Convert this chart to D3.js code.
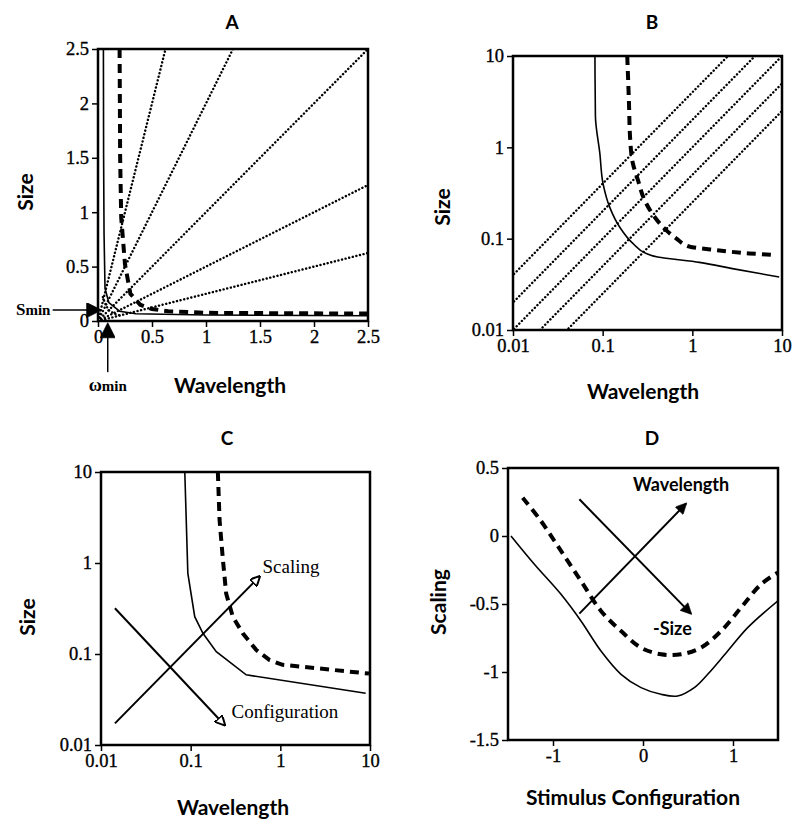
<!DOCTYPE html>
<html>
<head>
<meta charset="utf-8">
<script src="https://cdn.jsdelivr.net/npm/d3@7"></script>
<style>
  body { margin: 0; background: #fff; }
  .tick text { font-family: 'Liberation Serif', serif; font-size: 18.5px; fill: #000; stroke: #000; stroke-width: 0.35px; }
  .tick line { stroke: #000; stroke-width: 1.5; }
  .lab { font-family: Lato, sans-serif; font-weight: 700; fill: #000; }
  .note { font-family: 'Liberation Serif', serif; fill: #000; }
</style>
</head>
<body>
<div class="chart"></div>
<script>
// ---- 数据 ----
// A：线性坐标
let aSolid = [[0.05, 2.5], [0.052, 1.5], [0.056, 0.8], [0.065, 0.3], [0.1, 0.17], [0.2, 0.09], [0.35, 0.066], [1, 0.055], [2.5, 0.048]]
let aDashed = [[0.2, 2.5], [0.205, 1.5], [0.215, 0.95], [0.25, 0.52], [0.3, 0.25], [0.39, 0.15], [0.5, 0.11], [0.65, 0.09], [1, 0.075], [2.5, 0.068]]
let aArc = [[0.045, 0.22], [0.07, 0.15], [0.1, 0.1], [0.15, 0.067], [0.22, 0.046]]
let raySlopes = [4, 2, 1, 0.5, 0.25]
let aTicks = [0, 0.5, 1, 1.5, 2, 2.5]
let aTickLabels = ['0', '0.5', '1', '1.5', '2', '2.5']
let sMin = 0.1
let wMin = 0.09

// B：对数坐标
let bSolid = [[0.082, 10], [0.083, 2.2], [0.093, 0.86], [0.101, 0.4], [0.12, 0.22], [0.154, 0.135], [0.217, 0.089], [0.306, 0.069], [0.41, 0.063], [1.2, 0.055], [2.8, 0.047], [9.3, 0.038]]
let bDashed = [[0.188, 10], [0.196, 3.3], [0.203, 1.2], [0.217, 0.67], [0.247, 0.44], [0.293, 0.265], [0.378, 0.174], [0.51, 0.124], [0.66, 0.101], [0.93, 0.082], [1.83, 0.075], [4.3, 0.069], [8.5, 0.066]]
let logTicks = [0.01, 0.1, 1, 10]
let logTickLabels = ['0.01', '0.1', '1', '10']

// C
let cSolid = [[0.086, 10], [0.093, 0.77], [0.111, 0.257], [0.137, 0.169], [0.193, 0.106], [0.416, 0.059], [8.95, 0.037]]
let cDashed = [[0.201, 10], [0.21, 2.97], [0.229, 1.08], [0.249, 0.46], [0.295, 0.257], [0.381, 0.169], [0.537, 0.111], [0.755, 0.086], [1.06, 0.076], [2.49, 0.07], [5.84, 0.064], [9.75, 0.061]]
let cArrowScaling = [[0.0143, 0.0173], [0.585, 0.708]]
let cArrowConfig = [[0.0143, 0.318], [0.239, 0.0166]]

// D
let dSolid = [[-1.467, 0], [-1.207, -0.208], [-0.911, -0.429], [-0.689, -0.625], [-0.467, -0.846], [-0.244, -1.017], [-0.022, -1.115], [0.2, -1.164], [0.385, -1.176], [0.57, -1.115], [0.719, -1.017], [0.941, -0.846], [1.163, -0.674], [1.496, -0.478]]
let dDashed = [[-1.337, 0.282], [-1.133, 0.11], [-0.911, -0.11], [-0.689, -0.331], [-0.467, -0.551], [-0.244, -0.699], [-0.022, -0.821], [0.2, -0.87], [0.422, -0.87], [0.644, -0.821], [0.867, -0.699], [1.089, -0.527], [1.311, -0.355], [1.496, -0.27]]
let dArrowWave = [[-0.707, -0.571], [0.478, 0.238]]
let dArrowSize = [[-0.707, 0.27], [0.533, -0.571]]
let dXTicks = [-1, 0, 1]
let dXTickLabels = ['-1', '0', '1']
let dYTicks = [0.5, 0, -0.5, -1, -1.5]
let dYTickLabels = ['0.5', '0', '-0.5', '-1', '-1.5']

let svg = d3.select('.chart')
  .append('svg')
  .attr('width', 792)
  .attr('height', 825)

// 箭头
let defs = svg.append('defs')
function marker (id, w, h, open) {
  defs.append('marker')
    .attr('id', id)
    .attr('viewBox', '0 0 10 10')
    .attr('refX', 9)
    .attr('refY', 5)
    .attr('markerWidth', w)
    .attr('markerHeight', h)
    .attr('markerUnits', 'userSpaceOnUse')
    .attr('orient', 'auto')
    .append('path')
    .attr('d', 'M0,0 L10,5 L0,10 z')
    .attr('fill', open ? '#fff' : '#000')
    .attr('stroke', '#000')
    .attr('stroke-width', open ? 2 : 0.5)
}
marker('head', 12, 11, false)
marker('head-open', 11, 10, true)
marker('head-big', 24, 15, false)

let line = (x, y, curve) => d3.line()
  .x(d => x(d[0]))
  .y(d => y(d[1]))
  .curve(curve || d3.curveLinear)

// 绘制一个面板
function panel (opt) {
  let x = (opt.log ? d3.scaleLog() : d3.scaleLinear()).domain(opt.xDomain).range(opt.xRange)
  let y = (opt.log ? d3.scaleLog() : d3.scaleLinear()).domain(opt.yDomain).range(opt.yRange)
  let g = svg.append('g')

  let id = 'clip-' + opt.name
  defs.append('clipPath').attr('id', id)
    .append('rect')
    .attr('x', opt.xRange[0])
    .attr('y', opt.yRange[1])
    .attr('width', opt.xRange[1] - opt.xRange[0])
    .attr('height', opt.yRange[0] - opt.yRange[1])

  let xAxis = d3.axisBottom(x)
    .tickValues(opt.xTicks)
    .tickFormat((d, i) => opt.xLabels[i])
    .tickSize(6)
    .tickPadding(3)
  let yAxis = d3.axisLeft(y)
    .tickValues(opt.yTicks)
    .tickFormat((d, i) => opt.yLabels[i])
    .tickSize(6)
    .tickPadding(3)
  g.append('g').attr('transform', `translate(0,${opt.yRange[0]})`).call(xAxis)
    .call(s => s.select('.domain').remove())
  g.append('g').attr('transform', `translate(${opt.xRange[0]},0)`).call(yAxis)
    .call(s => s.select('.domain').remove())

  // 边框
  g.append('rect')
    .attr('x', opt.xRange[0])
    .attr('y', opt.yRange[1])
    .attr('width', opt.xRange[1] - opt.xRange[0])
    .attr('height', opt.yRange[0] - opt.yRange[1])
    .attr('fill', 'none')
    .attr('stroke', '#000')
    .attr('stroke-width', 2.5)

  // 标题
  g.append('text')
    .attr('class', 'lab')
    .attr('x', opt.titleX)
    .attr('y', opt.titleY)
    .attr('text-anchor', 'middle')
    .attr('font-size', 19)
    .attr('font-weight', 400)
    .text(opt.name)

  g.append('text')
    .attr('class', 'lab')
    .attr('x', opt.xLabelPos[0])
    .attr('y', opt.xLabelPos[1])
    .attr('text-anchor', 'middle')
    .attr('font-size', 21)
    .text(opt.xTitle)
  g.append('text')
    .attr('class', 'lab')
    .attr('transform', `translate(${opt.yLabelPos[0]},${opt.yLabelPos[1]}) rotate(-90)`)
    .attr('text-anchor', 'middle')
    .attr('font-size', 21)
    .text(opt.yTitle)

  let plot = g.append('g').attr('clip-path', `url(#${id})`)
  return { g, plot, x, y }
}

function solid (p, data, curve) {
  p.plot.append('path')
    .attr('d', line(p.x, p.y, curve)(data))
    .attr('fill', 'none')
    .attr('stroke', '#000')
    .attr('stroke-width', 1.6)
}
function dashed (p, data, curve) {
  p.plot.append('path')
    .attr('d', line(p.x, p.y, curve)(data))
    .attr('fill', 'none')
    .attr('stroke', '#000')
    .attr('stroke-width', 4)
    .attr('stroke-dasharray', '9,6')
}
function dotted (p, data) {
  p.plot.append('path')
    .attr('d', line(p.x, p.y)(data))
    .attr('fill', 'none')
    .attr('stroke', '#000')
    .attr('stroke-width', 2.4)
    .attr('stroke-linecap', 'round')
    .attr('stroke-dasharray', '0.1,3.6')
}
function arrow (p, data, head) {
  p.g.append('line')
    .attr('x1', p.x(data[0][0]))
    .attr('y1', p.y(data[0][1]))
    .attr('x2', p.x(data[1][0]))
    .attr('y2', p.y(data[1][1]))
    .attr('stroke', '#000')
    .attr('stroke-width', 2)
    .attr('marker-end', `url(#${head})`)
}
function note (p, data, dx, dy, txt, size) {
  p.g.append('text')
    .attr('class', 'note')
    .attr('x', p.x(data[1][0]) + dx)
    .attr('y', p.y(data[1][1]) + dy)
    .attr('font-size', size)
    .text(txt)
}

// ---- A ----
let pA = panel({
  name: 'A', log: false,
  xDomain: [0, 2.5], yDomain: [0, 2.5],
  xRange: [98, 368], yRange: [321, 49],
  xTicks: aTicks, xLabels: aTickLabels, yTicks: aTicks, yLabels: aTickLabels,
  titleX: 232, titleY: 29,
  xTitle: 'Wavelength', yTitle: 'Size',
  xLabelPos: [230, 393], yLabelPos: [33, 192]
})
raySlopes.forEach(k => dotted(pA, [[0, 0], [2.5, 2.5 * k]]))
dotted(pA, aArc)
solid(pA, aSolid)
dashed(pA, aDashed)
// Smin / ωmin 箭头
pA.g.append('line')
  .attr('x1', pA.x(-0.42)).attr('y1', pA.y(sMin))
  .attr('x2', pA.x(0.02)).attr('y2', pA.y(sMin))
  .attr('stroke', '#000').attr('stroke-width', 1.5)
  .attr('marker-end', 'url(#head-big)')
pA.g.append('line')
  .attr('x1', pA.x(wMin)).attr('y1', pA.y(-0.47))
  .attr('x2', pA.x(wMin)).attr('y2', pA.y(-0.03))
  .attr('stroke', '#000').attr('stroke-width', 1.5)
  .attr('marker-end', 'url(#head-big)')
let sLab = pA.g.append('text').attr('class', 'note')
  .attr('x', pA.x(-0.44)).attr('y', pA.y(sMin) + 5)
  .attr('text-anchor', 'end').attr('font-size', 17)
  .attr('font-weight', 700)
sLab.append('tspan').text('S')
sLab.append('tspan').attr('font-size', 15).text('min')
let wLab = pA.g.append('text').attr('class', 'note')
  .attr('x', pA.x(wMin)).attr('y', 391)
  .attr('text-anchor', 'middle').attr('font-size', 18)
  .attr('font-weight', 700)
wLab.append('tspan').text('ω')
wLab.append('tspan').attr('font-size', 15).text('min')

// ---- B ----
let pB = panel({
  name: 'B', log: true,
  xDomain: [0.01, 10], yDomain: [0.01, 10],
  xRange: [513, 782], yRange: [330, 56],
  xTicks: logTicks, xLabels: logTickLabels, yTicks: logTicks, yLabels: logTickLabels,
  titleX: 652, titleY: 29,
  xTitle: 'Wavelength', yTitle: 'Size',
  xLabelPos: [643, 399], yLabelPos: [450, 207]
})
raySlopes.forEach(k => dotted(pB, [[0.001, 0.001 * k], [10, 10 * k]]))
solid(pB, bSolid, d3.curveMonotoneY)
dashed(pB, bDashed, d3.curveMonotoneY)

// ---- C ----
let pC = panel({
  name: 'C', log: true,
  xDomain: [0.01, 10], yDomain: [0.01, 10],
  xRange: [101, 370], yRange: [745, 472],
  xTicks: logTicks, xLabels: logTickLabels, yTicks: logTicks, yLabels: logTickLabels,
  titleX: 227, titleY: 445,
  xTitle: 'Wavelength', yTitle: 'Size',
  xLabelPos: [233, 815], yLabelPos: [35, 617]
})
solid(pC, cSolid)
dashed(pC, cDashed)
arrow(pC, cArrowScaling, 'head-open')
arrow(pC, cArrowConfig, 'head-open')
note(pC, cArrowScaling, 3, -4, 'Scaling', 19)
note(pC, cArrowConfig, 7, -7, 'Configuration', 19)

// ---- D ----
let pD = panel({
  name: 'D', log: false,
  xDomain: [-1.5, 1.5], yDomain: [-1.5, 0.5],
  xRange: [508, 778], yRange: [740, 468],
  xTicks: dXTicks, xLabels: dXTickLabels, yTicks: dYTicks, yLabels: dYTickLabels,
  titleX: 652, titleY: 445,
  xTitle: 'Stimulus Configuration', yTitle: 'Scaling',
  xLabelPos: [633, 805], yLabelPos: [446, 602]
})
solid(pD, dSolid, d3.curveCatmullRom)
dashed(pD, dDashed, d3.curveCatmullRom)
arrow(pD, dArrowWave, 'head')
arrow(pD, dArrowSize, 'head')
pD.g.append('text').attr('class', 'lab')
  .attr('x', pD.x(dArrowWave[1][0]) - 53).attr('y', pD.y(dArrowWave[1][1]) - 13)
  .attr('font-size', 18).text('Wavelength')
pD.g.append('text').attr('class', 'lab')
  .attr('x', pD.x(dArrowSize[1][0]) - 38).attr('y', pD.y(dArrowSize[1][1]) + 21)
  .attr('font-size', 18).text('-Size')
</script>
</body>
</html>
